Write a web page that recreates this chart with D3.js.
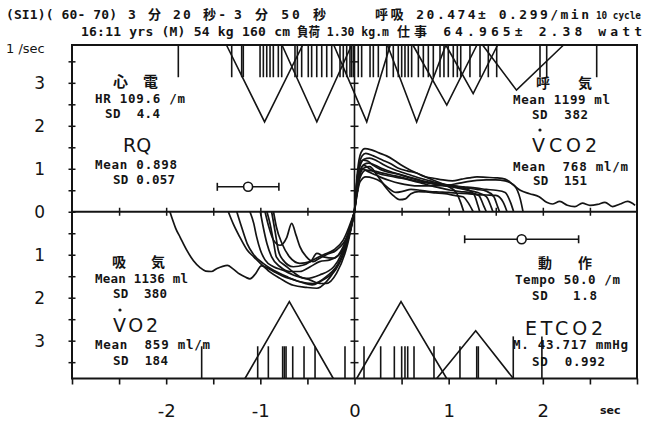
<!DOCTYPE html>
<html>
<head>
<meta charset="utf-8">
<script src="https://cdn.jsdelivr.net/npm/d3@7"></script>
<style>
html,body{margin:0;padding:0;background:#fff;}
svg{display:block;}
svg text{white-space:pre;}
</style>
</head>
<body>
<svg id="chart" width="648" height="425"></svg>
<script>
// ---- axis labels ----
const xTickLabels = [-2, -1, 0, 1, 2];          // sec
const yTickLabels = [-3, -2, -1, 0, 1, 2, 3];   // l/sec

// ---- expiration timing marks (top strip), sec ----
const expMarks = [-1.871, -1.304, -1.198, -1.181, -1.003, -0.968, -0.932, -0.897, -0.862,
  -0.809, -0.773, -0.632, -0.607, -0.561, -0.491, -0.455, -0.401, -0.348, -0.295, -0.242,
  -0.154, -0.119, -0.083, -0.048, -0.03, -0.01, 0.04, 0.076, 0.165, 0.2, 0.253, 0.342,
  0.412, 0.465, 0.501, 0.536, 0.571, 0.607, 0.678, 0.731, 0.784, 0.837, 0.908, 0.95,
  0.996, 1.049, 1.092, 1.128, 1.226, 1.333, 1.421, 1.51, 1.97, 2.041, 2.572];
// expiration triangles: [start, apex, end, apex level]
const expTriangles = [
  [-1.36, -0.955, -0.55, 2.09],
  [-0.77, -0.40, -0.03, 2.09],
  [-0.22, 0.13, 0.38, 2.09],
  [0.35, 0.66, 0.97, 2.09],
  [0.62, 0.98, 1.30, 2.48],
  [0.97, 1.26, 1.52, 2.75],
  [1.36, 1.72, 2.22, 2.83]
];

// ---- inspiration timing marks (bottom strip), sec ----
const inspMarks = [-1.623, -1.028, -0.915, -0.763, -0.745, -0.727, -0.656, -0.536, -0.419,
  -0.101, 0.101, 0.278, 0.423, 0.501, 0.536, 0.565, 0.632, 0.844, 1.12, 1.298, 1.315];
const inspTallMarks = [1.686, 1.99];
// inspiration triangles: [start, apex, end, apex level]
const inspTriangles = [
  [-1.163, -0.692, -0.225, -2.09],
  [0.023, 0.494, 0.979, -2.09],
  [0.873, 1.287, 1.686, -2.77]
];

// ---- expiratory flow traces (VCO2 side): [sec, l/sec] ----
const vco2Traces = [
  [[0,0],[0.03,0.9],[0.07,1.38],[0.11,1.47],[0.18,1.44],[0.26,1.37],[0.34,1.3],[0.42,1.2],[0.5,1.08],[0.6,0.96],[0.7,0.86],[0.8,0.77],[0.9,0.68],[1.0,0.58],[1.08,0.45],[1.13,0.2],[1.16,0]],
  [[0,0],[0.03,0.8],[0.08,1.3],[0.12,1.36],[0.2,1.3],[0.3,1.2],[0.38,1.12],[0.46,1.02],[0.56,0.95],[0.66,0.9],[0.74,0.82],[0.84,0.78],[0.94,0.74],[1.04,0.72],[1.14,0.76],[1.22,0.79],[1.3,0.81],[1.4,0.8],[1.5,0.79],[1.6,0.76],[1.68,0.64],[1.76,0.5],[1.86,0.42],[1.96,0.35],[2.04,0.22],[2.1,0.18],[2.18,0.24],[2.26,0.15],[2.34,0.12],[2.42,0.2],[2.5,0.15],[2.58,0.17],[2.66,0.22],[2.74,0.12],[2.82,0.18],[2.9,0.24],[2.98,0.15]],
  [[0,0],[0.04,0.9],[0.1,1.22],[0.16,1.25],[0.24,1.18],[0.32,1.08],[0.4,1.0],[0.5,0.92],[0.6,0.85],[0.7,0.78],[0.8,0.72],[0.9,0.66],[1.0,0.62],[1.1,0.58],[1.2,0.52],[1.27,0.4],[1.31,0.15],[1.33,0]],
  [[0,0],[0.05,0.85],[0.1,1.1],[0.15,1.13],[0.22,1.08],[0.3,1.0],[0.4,0.92],[0.5,0.85],[0.6,0.78],[0.7,0.72],[0.8,0.67],[0.9,0.62],[1.0,0.59],[1.1,0.55],[1.2,0.5],[1.3,0.45],[1.4,0.35],[1.45,0.12],[1.47,0]],
  [[0,0],[0.05,0.8],[0.1,1.02],[0.16,1.05],[0.24,0.85],[0.32,0.6],[0.4,0.4],[0.48,0.28],[0.54,0.3],[0.6,0.42],[0.68,0.47],[0.76,0.46],[0.86,0.44],[0.96,0.42],[1.06,0.38],[1.15,0.35],[1.21,0.2],[1.26,0]],
  [[0,0],[0.06,0.8],[0.12,0.97],[0.2,0.95],[0.3,0.9],[0.4,0.85],[0.5,0.8],[0.6,0.74],[0.7,0.69],[0.8,0.66],[0.9,0.63],[1.0,0.6],[1.1,0.58],[1.2,0.55],[1.3,0.52],[1.4,0.48],[1.48,0.35],[1.52,0.12],[1.54,0]],
  [[0,0],[0.06,0.7],[0.12,0.81],[0.2,0.78],[0.28,0.7],[0.36,0.55],[0.44,0.45],[0.52,0.48],[0.6,0.52],[0.7,0.5],[0.8,0.47],[0.9,0.46],[1.0,0.45],[1.1,0.43],[1.2,0.42],[1.3,0.4],[1.4,0.39],[1.5,0.38],[1.58,0.22],[1.62,0]],
  [[0,0],[0.04,0.95],[0.09,1.2],[0.14,1.18],[0.2,1.08],[0.28,0.98],[0.36,0.92],[0.46,0.88],[0.56,0.82],[0.66,0.76],[0.76,0.7],[0.86,0.66],[0.96,0.63],[1.06,0.6],[1.16,0.58],[1.3,0.55],[1.4,0.52],[1.5,0.5],[1.6,0.45],[1.66,0.2],[1.69,0]],
  [[0,0],[0.05,0.9],[0.1,1.08],[0.16,1.0],[0.22,0.92],[0.3,0.86],[0.4,0.82],[0.5,0.78],[0.62,0.72],[0.72,0.66],[0.82,0.6],[0.92,0.55],[1.02,0.5],[1.12,0.47],[1.22,0.45],[1.32,0.38],[1.37,0.15],[1.4,0]],
  [[0,0],[0.04,0.7],[0.08,1.0],[0.14,0.94],[0.2,0.88],[0.28,0.8],[0.38,0.72],[0.48,0.66],[0.58,0.62],[0.68,0.6],[0.78,0.6],[0.9,0.61],[1.0,0.62],[1.1,0.66],[1.2,0.7],[1.3,0.73],[1.4,0.74],[1.5,0.74],[1.6,0.72],[1.7,0.6],[1.76,0.3],[1.79,0]]
];

// ---- inspiratory flow traces (VO2 side): [sec, l/sec] ----
const vo2Traces = [
  [[-1.96,0],[-1.93,-0.2],[-1.9,-0.38],[-1.85,-0.6],[-1.78,-0.9],[-1.71,-1.14],[-1.64,-1.3],[-1.58,-1.38],[-1.52,-1.39],[-1.46,-1.32],[-1.4,-1.27],[-1.35,-1.25],[-1.29,-1.33],[-1.22,-1.45],[-1.16,-1.52],[-1.11,-1.56],[-1.05,-1.44],[-0.99,-1.26],[-0.93,-1.3],[-0.85,-1.4],[-0.76,-1.5],[-0.65,-1.58],[-0.55,-1.65],[-0.45,-1.7],[-0.36,-1.62],[-0.27,-1.5],[-0.2,-1.35],[-0.13,-1.05],[-0.07,-0.65],[-0.03,-0.3],[0,0]],
  [[-1.34,0],[-1.29,-0.27],[-1.22,-0.58],[-1.14,-0.89],[-1.07,-1.05],[-1.0,-1.2],[-0.9,-1.4],[-0.79,-1.55],[-0.65,-1.71],[-0.51,-1.76],[-0.4,-1.78],[-0.3,-1.63],[-0.19,-1.28],[-0.08,-0.74],[0,0]],
  [[-1.25,0],[-1.2,-0.35],[-1.14,-0.74],[-1.07,-1.0],[-0.97,-1.2],[-0.86,-1.36],[-0.72,-1.51],[-0.58,-1.63],[-0.44,-1.67],[-0.3,-1.51],[-0.15,-1.12],[-0.05,-0.5],[0,0]],
  [[-1.11,0],[-1.07,-0.27],[-1.04,-0.58],[-1.0,-0.89],[-0.95,-1.12],[-0.86,-1.28],[-0.76,-1.36],[-0.65,-1.47],[-0.51,-1.55],[-0.37,-1.47],[-0.22,-1.28],[-0.12,-0.89],[0,0]],
  [[-1.0,0],[-0.97,-0.35],[-0.93,-0.74],[-0.88,-1.05],[-0.79,-1.28],[-0.69,-1.39],[-0.58,-1.39],[-0.47,-1.28],[-0.37,-1.16],[-0.26,-1.12],[-0.15,-0.97],[-0.05,-0.43],[0,0]],
  [[-0.95,0],[-0.91,-0.35],[-0.86,-0.66],[-0.79,-0.78],[-0.72,-0.6],[-0.667,-0.27],[-0.62,-0.55],[-0.58,-0.81],[-0.51,-1.05],[-0.44,-1.16],[-0.37,-1.08],[-0.3,-1.0],[-0.19,-0.89],[-0.08,-0.58],[0,0]],
  [[-0.88,0],[-0.84,-0.5],[-0.81,-0.89],[-0.76,-1.12],[-0.65,-1.28],[-0.54,-1.24],[-0.44,-1.12],[-0.33,-1.0],[-0.22,-0.89],[-0.12,-0.66],[0,0]],
  [[-0.93,0],[-0.9,-0.25],[-0.86,-0.7],[-0.83,-1.05],[-0.72,-1.28],[-0.58,-1.51],[-0.47,-1.59],[-0.37,-1.67],[-0.3,-1.67],[-0.19,-1.43],[-0.08,-0.81],[0,0]],
  [[-0.86,0],[-0.83,-0.35],[-0.77,-0.74],[-0.69,-1.05],[-0.58,-1.2],[-0.47,-1.16],[-0.4,-0.97],[-0.36,-1.0],[-0.33,-1.05],[-0.22,-1.08],[-0.12,-0.81],[0,0]]
];

// ---- mean ± SD bars: [centre sec, half width sec, level] ----
const rqBar = [-1.13, 0.327, 0.58];
const tempoBar = [1.775, 0.605, -0.64];

// ---- summary statistics ----
const hrStats = [109.6, 4.4];
const rqStats = ["0.898", "0.057"];
const expVolStats = [1199, 382];
const vco2Stats = [768, 151];
const inspVolStats = [1136, 380];
const vo2Stats = [859, 184];
const tempoStats = ["50.0", "1.8"];
const etco2Stats = ["43.717", "0.992"];
const headerLine1 = ["(SI1)( 60- 70)", "3 分 20 秒-", "3 分 50 秒", "呼吸 20.474± 0.299/min", "10 cycle"];
const headerLine2 = ["16:11 yrs (M) 54 kg 160 cm", "負荷 1.30 kg.m", "仕事 64.965± 2.38 watt"];

// ================= drawing =================
const svg = d3.select("#chart");
const ink = "#141414";
const x = d3.scaleLinear().domain([-3, 3]).range([72, 637]);
const y = d3.scaleLinear().domain([-3.88, 3.88]).range([378.5, 45]);
const yTop = y.domain()[1], yBot = y.domain()[0];
const xHalf = d3.range(-3, 3.001, 0.5);
const yHalf = d3.range(-3.5, 3.501, 0.5);
const mono = "'DejaVu Sans Mono','Noto Sans CJK JP',monospace";
const sans = "'DejaVu Sans','Noto Sans',sans-serif";
const cjk = "'Noto Sans CJK JP',sans-serif";

function noDomain(sel) { sel.select(".domain").remove(); }
function inkAxis(sel, w) {
  sel.selectAll("line").attr("stroke", ink).attr("stroke-width", w);
  sel.selectAll("text").attr("fill", ink);
}

// frame
svg.append("path")
  .attr("d", `M${x(-3)},${y(yTop)}H${x(3)}V${y(yBot)}H${x(-3)}Z`)
  .attr("fill", "none").attr("stroke", ink).attr("stroke-width", 2);

// centre axes
svg.append("line").attr("x1", x(-3)).attr("x2", x(3)).attr("y1", y(0)).attr("y2", y(0))
  .attr("stroke", ink).attr("stroke-width", 1.8);
svg.append("line").attr("x1", x(0)).attr("x2", x(0)).attr("y1", y(yTop)).attr("y2", y(yBot))
  .attr("stroke", ink).attr("stroke-width", 1.6);

// bottom axis ticks and labels
svg.append("g").attr("transform", `translate(0,${y(yBot)})`)
  .call(d3.axisBottom(x).tickValues(xHalf).tickSize(6).tickSizeOuter(0).tickFormat(""))
  .call(noDomain).call(s => inkAxis(s, 1.6));
svg.append("g").attr("transform", `translate(0,${y(yBot)})`)
  .call(d3.axisBottom(x).tickValues(xTickLabels).tickSize(0).tickPadding(26).tickFormat(d => String(d)))
  .call(noDomain)
  .call(s => s.selectAll("text").attr("font-family", sans).attr("font-size", 18).attr("fill", ink));

// zero-line ticks (crossing)
[d3.axisBottom, d3.axisTop].forEach(ax => {
  svg.append("g").attr("transform", `translate(0,${y(0)})`)
    .call(ax(x).tickValues(xHalf.filter(v => v > -3 && v < 3 && v !== 0)).tickSize(4).tickFormat(""))
    .call(noDomain).call(s => inkAxis(s, 1.5));
});

// left frame ticks (crossing) and labels
[d3.axisLeft, d3.axisRight].forEach(ax => {
  svg.append("g").attr("transform", `translate(${x(-3)},0)`)
    .call(ax(y).tickValues(yHalf).tickSize(3.5).tickFormat(""))
    .call(noDomain).call(s => inkAxis(s, 1.5));
  svg.append("g").attr("transform", `translate(${x(0)},0)`)
    .call(ax(y).tickValues(yHalf.filter(v => v !== 0)).tickSize(4).tickFormat(""))
    .call(noDomain).call(s => inkAxis(s, 1.5));
});
svg.append("g").attr("transform", `translate(${x(-3)},0)`)
  .call(d3.axisLeft(y).tickValues(yTickLabels).tickSize(0).tickPadding(27).tickFormat(d => String(Math.abs(d))))
  .call(noDomain)
  .call(s => s.selectAll("text").attr("font-family", sans).attr("font-size", 17).attr("fill", ink));

// unit labels
svg.append("text").attr("x", 6).attr("y", 53).attr("font-family", sans).attr("font-size", 13)
  .attr("fill", ink).text("1 /sec");
svg.append("text").attr("x", 600).attr("y", 414).attr("font-family", sans).attr("font-size", 11)
  .attr("font-weight", "bold").attr("fill", ink).text("sec");

// timing marks
const marks = svg.append("g").attr("stroke", ink).attr("stroke-width", 1.6);
const markDepth = 0.75;
marks.selectAll(".em").data(expMarks).join("line")
  .attr("x1", d => x(d)).attr("x2", d => x(d))
  .attr("y1", y(yTop)).attr("y2", y(yTop - markDepth));
marks.selectAll(".im").data(inspMarks).join("line").attr("class", "im")
  .attr("x1", d => x(d)).attr("x2", d => x(d))
  .attr("y1", y(yBot)).attr("y2", y(yBot + markDepth));
marks.selectAll(".it").data(inspTallMarks).join("line").attr("class", "it")
  .attr("x1", d => x(d)).attr("x2", d => x(d))
  .attr("y1", y(yBot)).attr("y2", y(yBot + 0.98));

// triangles
const tri = d3.line().x(d => x(d[0])).y(d => y(d[1]));
svg.append("g").selectAll("path").data(expTriangles).join("path")
  .attr("d", d => tri([[d[0], yTop], [d[1], d[3]], [d[2], yTop]]))
  .attr("fill", "none").attr("stroke", ink).attr("stroke-width", 1.6);
svg.append("g").selectAll("path").data(inspTriangles).join("path")
  .attr("d", d => tri([[d[0], yBot], [d[1], d[3]], [d[2], yBot]]))
  .attr("fill", "none").attr("stroke", ink).attr("stroke-width", 1.6);

// flow traces
const flow = d3.line().x(d => x(d[0])).y(d => y(d[1])).curve(d3.curveMonotoneX);
svg.append("g").selectAll("path").data(vco2Traces.concat(vo2Traces)).join("path")
  .attr("d", flow).attr("fill", "none").attr("stroke", ink)
  .attr("stroke-width", 1.7).attr("stroke-linejoin", "round");

// mean ± SD bars
function sdBar(b) {
  const g = svg.append("g").attr("stroke", ink).attr("stroke-width", 1.6);
  g.append("line").attr("x1", x(b[0] - b[1])).attr("x2", x(b[0] + b[1])).attr("y1", y(b[2])).attr("y2", y(b[2]));
  [b[0] - b[1], b[0] + b[1]].forEach(v =>
    g.append("line").attr("x1", x(v)).attr("x2", x(v)).attr("y1", y(b[2]) - 4).attr("y2", y(b[2]) + 4));
  g.append("circle").attr("cx", x(b[0])).attr("cy", y(b[2])).attr("r", 4.5).attr("fill", "#fff");
}
sdBar(rqBar);
sdBar(tempoBar);

// text helpers: fit a string into [x0, x1]; widen by spacing, narrow by squeezing glyphs
function txt(s, x0, x1, yb, size, fam, weight) {
  const t = svg.append("text").attr("x", x0).attr("y", yb)
    .attr("font-family", fam).attr("font-size", size).attr("font-weight", weight || "bold")
    .attr("fill", ink).text(s);
  const natural = t.node().getComputedTextLength();
  const target = x1 - x0;
  if (Math.abs(natural - target) > 1) {
    t.attr("textLength", target)
     .attr("lengthAdjust", natural < target ? "spacing" : "spacingAndGlyphs");
  }
  return t;
}
function dot(cx, cy) {
  svg.append("circle").attr("cx", cx).attr("cy", cy).attr("r", 1.6).attr("fill", ink);
}

// header
const hx1 = [[6, 117], [128, 226], [234, 326], [375, 589], [596, 641]];
headerLine1.forEach((s, i) => txt(s, hx1[i][0], hx1[i][1], 19, i === 4 ? 11 : 13, mono));
const hx2 = [[81, 290], [297, 389], [397, 642]];
headerLine2.forEach((s, i) => txt(s, hx2[i][0], hx2[i][1], 36, 13, mono));

// upper left: heart rate and RQ
txt("心", 113, 128, 87, 15, cjk);
txt("電", 143, 160, 87, 15, cjk);
txt(`HR ${hrStats[0]} /m`, 95, 185, 103, 12.5, mono);
txt(`SD  ${hrStats[1]}`, 105, 160, 118, 12.5, mono);
txt("RQ", 123, 152, 152, 19, sans, "normal");
txt(`Mean ${rqStats[0]}`, 95, 177, 169, 12.5, mono);
txt(`SD ${rqStats[1]}`, 113, 175, 184, 12.5, mono);

// upper right: expiration volume and VCO2
txt("呼", 536, 549, 88, 14, cjk);
txt("気", 578, 593, 88, 14, cjk);
txt(`Mean ${expVolStats[0]} ml`, 513, 610, 104, 12.5, mono);
txt(`SD  ${expVolStats[1]}`, 532, 588, 119, 12.5, mono);
dot(540, 130);
txt("VCO2", 532, 597, 152, 19, sans, "normal");
txt(`Mean  ${vco2Stats[0]} ml/m`, 513, 628, 171, 12.5, mono);
txt(`SD  ${vco2Stats[1]}`, 533, 587, 185, 12.5, mono);

// lower left: inspiration volume and VO2
txt("吸", 112, 127, 267, 14, cjk);
txt("気", 151, 167, 267, 14, cjk);
txt(`Mean ${inspVolStats[0]} ml`, 95, 188, 283, 12.5, mono);
txt(`SD  ${inspVolStats[1]}`, 113, 167, 298, 12.5, mono);
dot(120, 310);
txt("VO2", 113, 158, 332, 19, sans, "normal");
txt(`Mean  ${vo2Stats[0]} ml/m`, 95, 210, 349, 12.5, mono);
txt(`SD  ${vo2Stats[1]}`, 113, 168, 365, 12.5, mono);

// lower right: motion tempo and ETCO2
txt("動", 538, 555, 268, 14, cjk);
txt("作", 578, 595, 268, 14, cjk);
txt(`Tempo ${tempoStats[0]} /m`, 515, 620, 284, 12.5, mono);
txt(`SD   ${tempoStats[1]}`, 532, 597, 300, 12.5, mono);
txt("ETCO2", 525, 603, 335, 19, sans, "normal");
txt(`M. ${etco2Stats[0]} mmHg`, 513, 628, 349, 12.5, mono);
txt(`SD  ${etco2Stats[1]}`, 532, 605, 366, 12.5, mono);
</script>
</body>
</html>
